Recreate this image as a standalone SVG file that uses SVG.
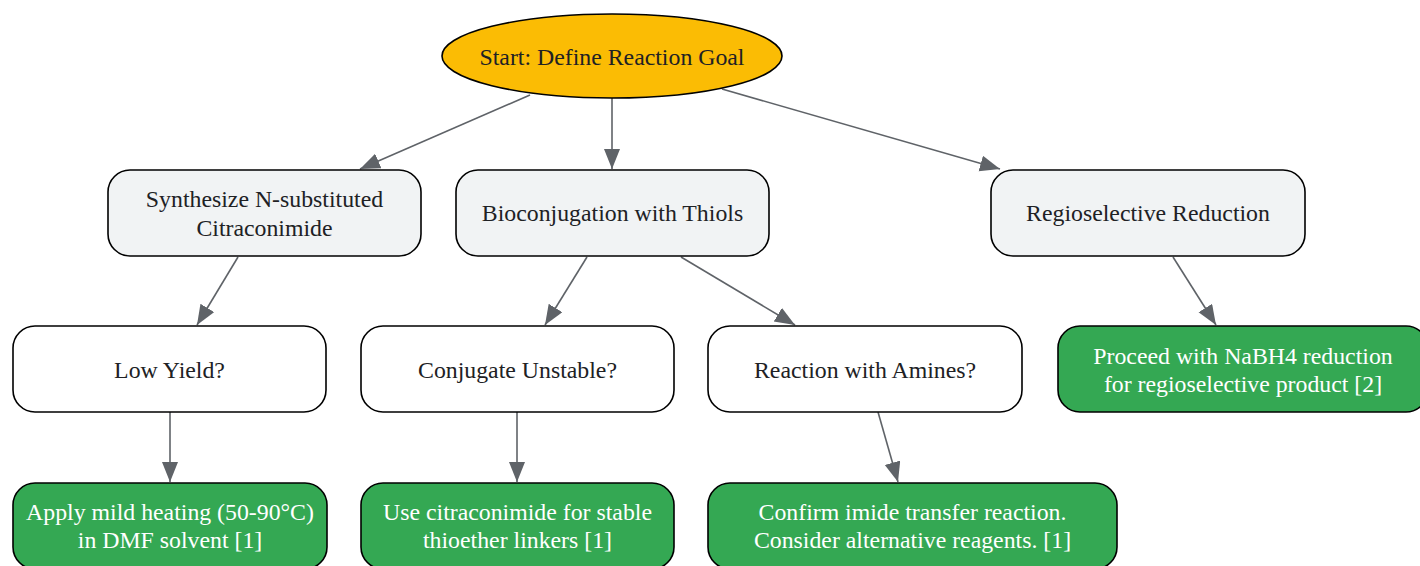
<svg xmlns="http://www.w3.org/2000/svg" width="1420" height="566" viewBox="0 0 1420 566">
<defs>
<style>
.n{stroke:#000;stroke-width:1.6}
.l{fill:#f1f3f4}
.w{fill:#ffffff}
.g{fill:#34a853}
.t{font-family:"Liberation Serif",serif;font-size:23.8px;fill:#202124;text-anchor:middle}
.tw{font-family:"Liberation Serif",serif;font-size:23.8px;fill:#ffffff;text-anchor:middle}
.e{stroke:#5f6368;stroke-width:1.6;fill:none;marker-end:url(#ah)}
</style>
<marker id="ah" markerUnits="userSpaceOnUse" markerWidth="22" markerHeight="18" refX="20" refY="8" orient="auto">
<path d="M0,0 L20,8 L0,16 Z" fill="#5f6368"/>
</marker>
</defs>
<rect width="1420" height="566" fill="#ffffff"/>
<g id="connectors">
<path class="e" d="M530,95 L360,169"/>
<path class="e" d="M612,98 L612,169"/>
<path class="e" d="M722,89 L1000,169"/>
<path class="e" d="M238,257 L197,325"/>
<path class="e" d="M587,257 L545,325"/>
<path class="e" d="M681,257 L795,325"/>
<path class="e" d="M1173,257 L1216,325"/>
<path class="e" d="M170,412 L170,482"/>
<path class="e" d="M517,412 L517,482"/>
<path class="e" d="M878,412 L898,482"/>
</g>
<g id="start">
<ellipse class="n" cx="612" cy="56" rx="170" ry="42" fill="#fbbc04"/>
<text class="t" x="612" y="65">Start: Define Reaction Goal</text>
</g>
<g id="synth">
<rect class="n l" x="108" y="170" width="313" height="86" rx="22"/>
<text class="t" x="264.5" y="207">Synthesize N-substituted</text>
<text class="t" x="264.5" y="236">Citraconimide</text>
</g>
<g id="bioconj">
<rect class="n l" x="456" y="170" width="313" height="86" rx="22"/>
<text class="t" x="612.5" y="221">Bioconjugation with Thiols</text>
</g>
<g id="regio">
<rect class="n l" x="991" y="170" width="314" height="86" rx="22"/>
<text class="t" x="1148" y="221">Regioselective Reduction</text>
</g>
<g id="lowyield">
<rect class="n w" x="13" y="326" width="313" height="86" rx="22"/>
<text class="t" x="169.5" y="378">Low Yield?</text>
</g>
<g id="unstable">
<rect class="n w" x="361" y="326" width="313" height="86" rx="22"/>
<text class="t" x="517.5" y="378">Conjugate Unstable?</text>
</g>
<g id="amines">
<rect class="n w" x="708" y="326" width="314" height="86" rx="22"/>
<text class="t" x="865" y="378">Reaction with Amines?</text>
</g>
<g id="nabh4">
<rect class="n g" x="1058" y="326" width="370" height="86" rx="22"/>
<text class="tw" x="1243" y="364">Proceed with NaBH4 reduction</text>
<text class="tw" x="1243" y="392">for regioselective product [2]</text>
</g>
<g id="heating">
<rect class="n g" x="13" y="483" width="314" height="86" rx="22"/>
<text class="tw" x="170" y="520">Apply mild heating (50-90°C)</text>
<text class="tw" x="170" y="548">in DMF solvent [1]</text>
</g>
<g id="stable">
<rect class="n g" x="361" y="483" width="313" height="86" rx="22"/>
<text class="tw" x="517.5" y="520">Use citraconimide for stable</text>
<text class="tw" x="517.5" y="548">thioether linkers [1]</text>
</g>
<g id="imide">
<rect class="n g" x="708" y="483" width="409" height="86" rx="22"/>
<text class="tw" x="912.5" y="520">Confirm imide transfer reaction.</text>
<text class="tw" x="912.5" y="548">Consider alternative reagents. [1]</text>
</g>
</svg>
